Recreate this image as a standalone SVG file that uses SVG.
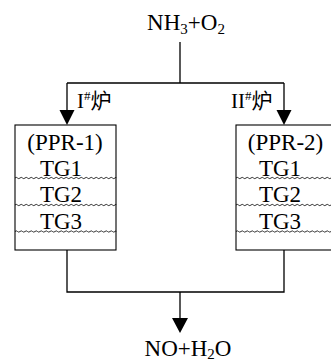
<svg xmlns="http://www.w3.org/2000/svg" width="331" height="363" viewBox="0 0 331 363">
<style>
text{font-family:'Liberation Serif','DejaVu Serif','Noto Sans CJK SC',serif;fill:#000}
.b{font-size:23px;text-anchor:middle}
.ln{stroke:#000;stroke-width:1.3;fill:none}
.box{fill:#fff;stroke:#000;stroke-width:1.1}
.wv{fill:none;stroke:#000;stroke-width:0.8}
</style>
<defs>
<path id="wave" d="M0 0 q1.25 -1.3 2.5 0 t2.5 0 t2.5 0 t2.5 0 t2.5 0 t2.5 0 t2.5 0 t2.5 0 t2.5 0 t2.5 0 t2.5 0 t2.5 0 t2.5 0 t2.5 0 t2.5 0 t2.5 0 t2.5 0 t2.5 0 t2.5 0 t2.5 0 t2.5 0 t2.5 0 t2.5 0 t2.5 0 t2.5 0 t2.5 0 t2.5 0 t2.5 0 t2.5 0 t2.5 0 t2.5 0 t2.5 0 t2.5 0 t2.5 0 t2.5 0 t2.5 0 t2.5 0 t2.5 0 t2.5 0 t2.5 0 t1 0"/>
</defs>
<g id="connectors">
<path class="ln" d="M180 42 V83 M67 83 H284 M67 83 V112 M284 83 V112"/>
<polygon points="59.5,110 74.5,110 67,125"/>
<polygon points="276.5,110 291.5,110 284,125"/>
<path class="ln" d="M67 250 V292 H284 V250 M180 292 V320"/>
<polygon points="172,318 188,318 180,333"/>
<text x="77" y="108" font-size="21" font-family="Liberation Serif, Noto Sans CJK SC, serif">I<tspan font-size="13" dy="-8">#</tspan><tspan dy="8">炉</tspan></text>
<text x="231" y="108" font-size="21" font-family="Liberation Serif, Noto Sans CJK SC, serif">II<tspan font-size="13" dy="-8">#</tspan><tspan dy="8">炉</tspan></text>
</g>
<g id="top">
<text x="186" y="30" font-size="23" text-anchor="middle" font-family="Liberation Serif, serif">NH<tspan font-size="15" dy="4">3</tspan><tspan dy="-4">+O</tspan><tspan font-size="15" dy="4">2</tspan></text>
</g>
<g id="ppr1" font-family="Liberation Serif, serif">
<rect class="box" x="15" y="125" width="101" height="125"/>
<use href="#wave" class="wv" x="15" y="178"/>
<use href="#wave" class="wv" x="15" y="205"/>
<use href="#wave" class="wv" x="15" y="231.5"/>
<text class="b" x="65" y="150">(PPR-1)</text>
<text class="b" x="61" y="175.5">TG1</text>
<text class="b" x="61" y="202">TG2</text>
<text class="b" x="61" y="228.5">TG3</text>
</g>
<g id="ppr2" font-family="Liberation Serif, serif">
<rect class="box" x="236" y="125" width="101" height="125"/>
<use href="#wave" class="wv" x="236" y="178"/>
<use href="#wave" class="wv" x="236" y="205"/>
<use href="#wave" class="wv" x="236" y="231.5"/>
<text class="b" x="285.5" y="150">(PPR-2)</text>
<text class="b" x="280" y="175.5">TG1</text>
<text class="b" x="280" y="202">TG2</text>
<text class="b" x="280" y="228.5">TG3</text>
</g>
<g id="bottom">
<text x="188" y="356" font-size="23" text-anchor="middle" font-family="Liberation Serif, serif">NO+H<tspan font-size="15" dy="3">2</tspan><tspan dy="-3">O</tspan></text>
</g>
</svg>
